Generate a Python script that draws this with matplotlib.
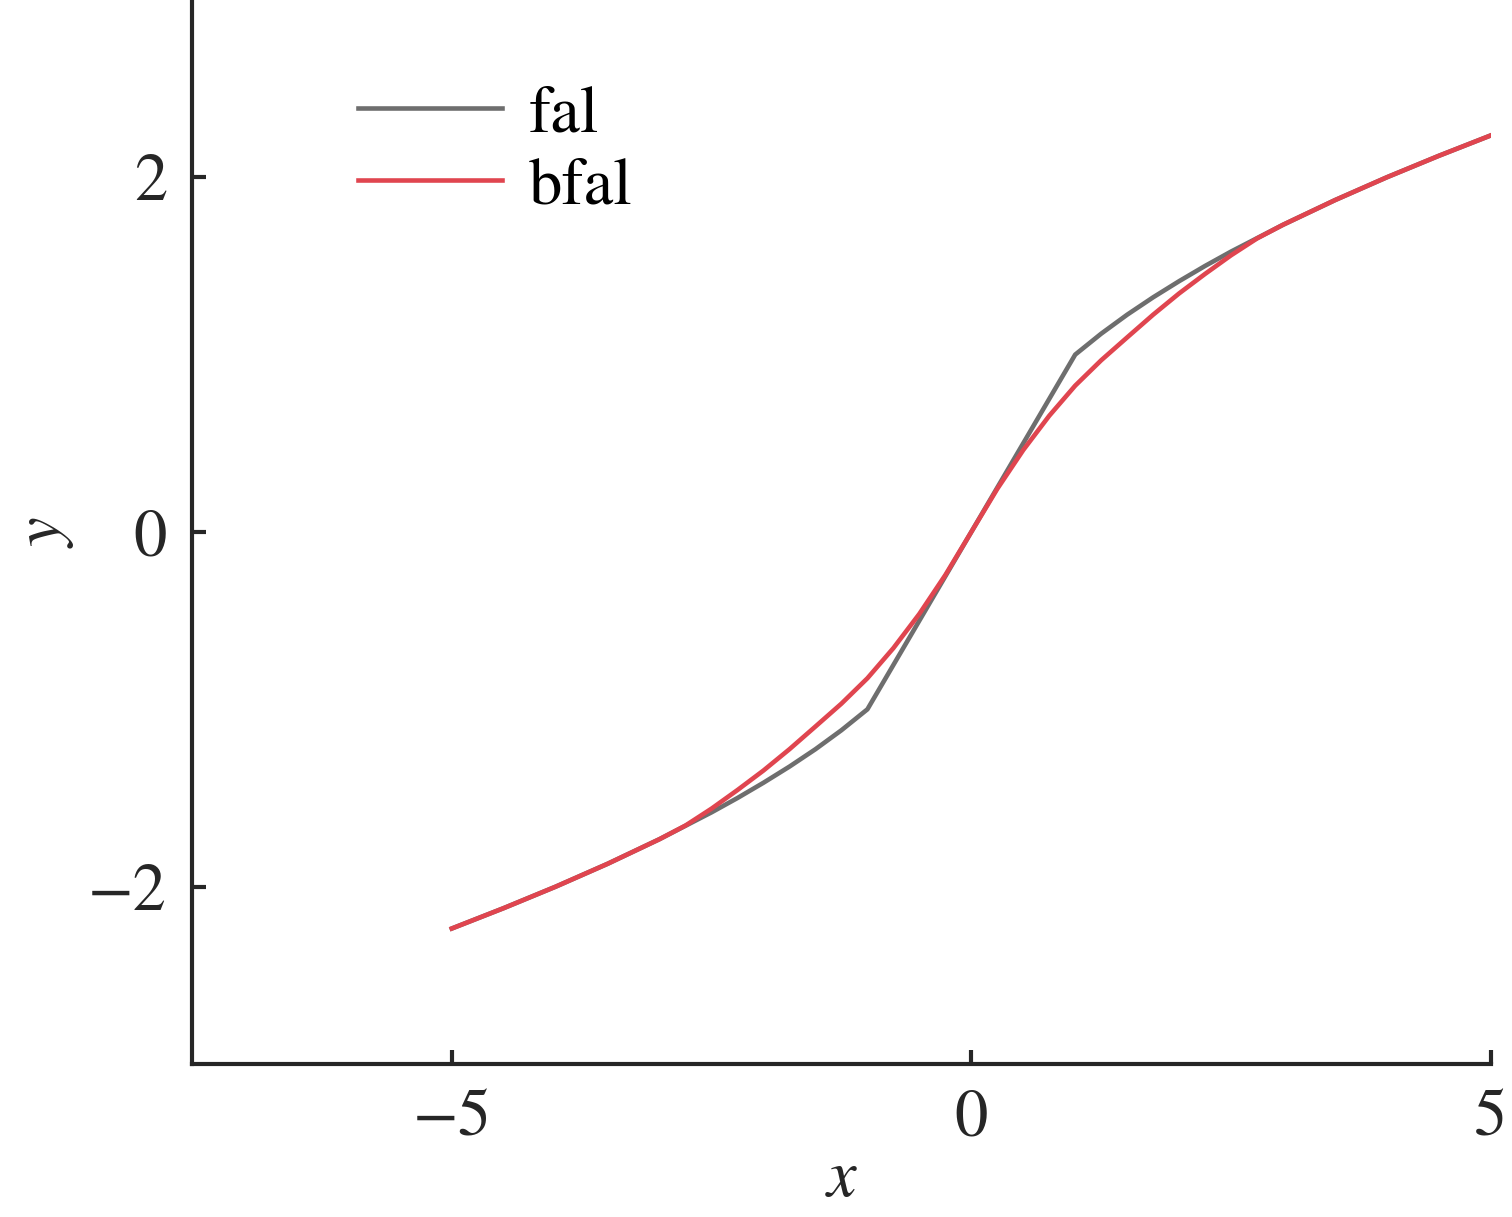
import matplotlib
matplotlib.use("Agg")
import matplotlib.pyplot as plt
import numpy as np

# values
fal_x = [-5, -4.5, -4, -3.5, -3, -2.5, -2.25, -2, -1.75, -1.5, -1.25, -1, 0,
         1, 1.25, 1.5, 1.75, 2, 2.25, 2.5, 3, 3.5, 4, 4.5, 5]
fal_y = [-2.236, -2.121, -2.0, -1.871, -1.732, -1.581, -1.5, -1.414, -1.323, -1.225,
         -1.118, -1.0, 0.0, 1.0, 1.118, 1.225, 1.323, 1.414, 1.5, 1.581, 1.732, 1.871,
         2.0, 2.121, 2.236]

bfal_x = [-5, -4.5, -4, -3.5, -3, -2.75, -2.5, -2.25, -2, -1.75, -1.5, -1.25, -1, -0.75,
          -0.5, -0.25, 0, 0.25, 0.5, 0.75, 1, 1.25, 1.5, 1.75, 2, 2.25, 2.5, 2.75, 3,
          3.5, 4, 4.5, 5]
bfal_y = [-2.236, -2.121, -2.0, -1.871, -1.732, -1.655, -1.56, -1.455, -1.345, -1.225,
          -1.097, -0.968, -0.825, -0.655, -0.462, -0.243, 0.0, 0.243, 0.462, 0.655, 0.825,
          0.968, 1.097, 1.225, 1.345, 1.455, 1.56, 1.655, 1.732, 1.871, 2.0, 2.121, 2.236]

plt.rcParams['font.family'] = ['STIXGeneral', 'DejaVu Serif']
plt.rcParams['mathtext.fontset'] = 'stix'
plt.rcParams['font.size'] = 16
ink = '#262626'

fig = plt.figure(figsize=(5.04, 4.057), dpi=300)
ax = fig.add_axes([0.127, 0.1257, 0.859, 0.8743])

ax.plot(fal_x, fal_y, color='#6e6e6e', lw=1.1, label='fal')
ax.plot(bfal_x, bfal_y, color='#e0454f', lw=1.1, label='bfal')

ax.set_xlim(-7.5, 5)
ax.set_ylim(-3, 3)
ax.set_xticks([-5, 0, 5])
ax.set_yticks([-2, 0, 2])
ax.set_xlabel('$x$', color=ink, labelpad=0)
ax.set_ylabel('$y$', color=ink, labelpad=3)

for s in ['top', 'right']:
    ax.spines[s].set_visible(False)
for s in ['left', 'bottom']:
    ax.spines[s].set_linewidth(1.0)
    ax.spines[s].set_color(ink)
ax.tick_params(direction='in', length=3.4, width=1.0, color=ink, labelcolor=ink, pad=6)

ax.legend(loc='upper left', bbox_to_anchor=(0.128, 0.92), frameon=False,
          handlelength=2.15, handletextpad=0.4, labelspacing=0.15, borderpad=0,
          borderaxespad=0)

fig.savefig('out.png', dpi=300)
